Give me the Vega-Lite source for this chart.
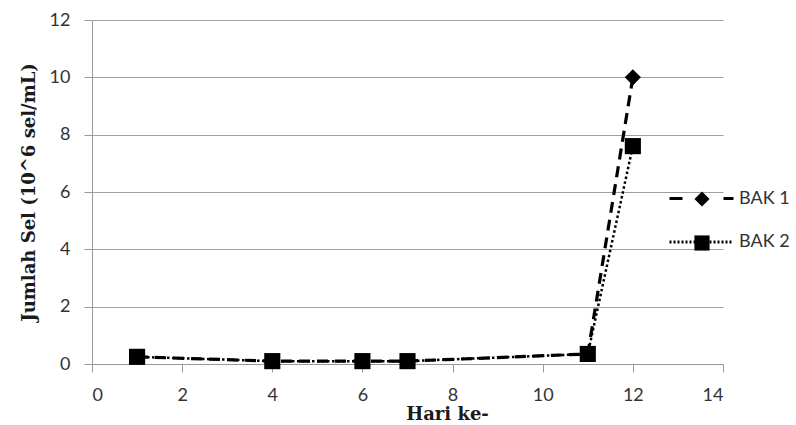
{
  "$schema": "https://vega.github.io/schema/vega-lite/v6.json",
  "width": 631,
  "height": 344,
  "autosize": {"type": "none"},
  "padding": {"left": 92, "top": 20, "right": 73, "bottom": 61},
  "background": "white",
  "config": {
    "view": {"stroke": null},
    "axis": {
      "domainColor": "#999999",
      "tickColor": "#999999",
      "gridColor": "#a0a0a0",
      "tickSize": 8,
      "labelFont": "Lato",
      "labelFontSize": 18,
      "labelColor": "#333333",
      "titleFont": "DejaVu Serif",
      "titleFontWeight": "bold",
      "titleFontSize": 18,
      "titleColor": "#1a1a1a"
    }
  },
  "data": {
    "values": [
      {"series": "BAK 1", "day": 1, "value": 0.25},
      {"series": "BAK 1", "day": 4, "value": 0.1},
      {"series": "BAK 1", "day": 6, "value": 0.1},
      {"series": "BAK 1", "day": 7, "value": 0.1},
      {"series": "BAK 1", "day": 11, "value": 0.35},
      {"series": "BAK 1", "day": 12, "value": 10},
      {"series": "BAK 2", "day": 1, "value": 0.25},
      {"series": "BAK 2", "day": 4, "value": 0.1},
      {"series": "BAK 2", "day": 6, "value": 0.1},
      {"series": "BAK 2", "day": 7, "value": 0.1},
      {"series": "BAK 2", "day": 11, "value": 0.35},
      {"series": "BAK 2", "day": 12, "value": 7.6}
    ]
  },
  "encoding": {
    "x": {
      "field": "day",
      "type": "quantitative",
      "scale": {"domain": [0, 14], "nice": false},
      "axis": {
        "values": [0, 2, 4, 6, 8, 10, 12, 14],
        "grid": false,
        "labelPadding": 14,
        "title": "Hari ke-",
        "titleX": 355,
        "titleY": 55,
        "titleAlign": "center",
        "titleBaseline": "alphabetic"
      }
    },
    "y": {
      "field": "value",
      "type": "quantitative",
      "scale": {"domain": [0, 12], "nice": false},
      "axis": {
        "values": [0, 2, 4, 6, 8, 10, 12],
        "grid": true,
        "labelPadding": 14,
        "title": "Jumlah  Sel (10^6 sel/mL)",
        "titleAngle": -90,
        "titleX": -58,
        "titleY": 172,
        "titleAlign": "center",
        "titleBaseline": "alphabetic"
      }
    }
  },
  "layer": [
    {
      "transform": [{"filter": "datum.series === 'BAK 1'"}],
      "mark": {"type": "line", "color": "black", "strokeDash": [11, 7], "strokeWidth": 3.2},
      "encoding": {}
    },
    {
      "transform": [{"filter": "datum.series === 'BAK 2'"}],
      "mark": {"type": "line", "color": "black", "strokeDash": [2.5, 2.5], "strokeWidth": 2.5},
      "encoding": {}
    },
    {
      "description": "legend key lines only; the filter keeps no rows",
      "transform": [{"filter": "datum.day > 100"}],
      "mark": {"type": "line", "color": "black", "strokeWidth": 3},
      "encoding": {
        "strokeDash": {
          "field": "series",
          "type": "nominal",
          "scale": {"domain": ["BAK 1", "BAK 2"], "range": [[13, 41], [2, 2]]},
          "legend": {
            "orient": "none",
            "legendX": 597,
            "legendY": 166,
            "title": null,
            "padding": 0,
            "symbolType": "M-3,0H3",
            "symbolSize": 455,
            "symbolStrokeWidth": 3,
            "symbolStrokeColor": "black",
            "symbolFillColor": "transparent",
            "symbolOpacity": 1,
            "labelOffset": 25,
            "labelFont": "Lato",
            "labelFontSize": 18,
            "labelColor": "#333333",
            "rowPadding": 21.5
          }
        }
      }
    },
    {
      "mark": {"type": "point", "filled": true, "color": "black", "size": 260, "opacity": 1},
      "encoding": {
        "shape": {
          "field": "series",
          "type": "nominal",
          "scale": {"range": ["diamond", "square"]},
          "legend": {
            "orient": "none",
            "legendX": 601,
            "legendY": 170,
            "title": null,
            "padding": 0,
            "symbolSize": 230,
            "symbolFillColor": "black",
            "symbolStrokeColor": "black",
            "symbolStrokeWidth": 0,
            "labelExpr": "''",
            "labelFontSize": 18,
            "rowPadding": 26
          }
        }
      }
    }
  ]
}
